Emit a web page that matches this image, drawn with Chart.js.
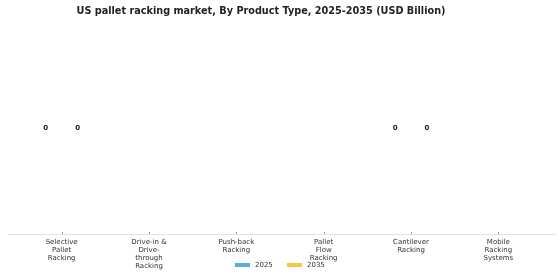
<!DOCTYPE html>
<html>
<head>
<meta charset="utf-8">
<script src="https://cdn.jsdelivr.net/npm/chart.js@4.4.1/dist/chart.umd.min.js"></script>
<style>
  html, body { margin: 0; padding: 0; background: #fff; }
  #wrap { width: 560px; height: 280px; position: relative; }
</style>
</head>
<body>
<div id="wrap"><canvas id="chart"></canvas></div>
<script>
// Categories and values (USD Billion)
const categories = [
  ['Selective', 'Pallet', 'Racking'],
  ['Drive-in &', 'Drive-', 'through', 'Racking'],
  ['Push-back', 'Racking'],
  ['Pallet', 'Flow', 'Racking'],
  ['Cantilever', 'Racking'],
  ['Mobile', 'Racking', 'Systems']
];
const values2025 = [0, null, null, null, 0, null];
const values2035 = [0, null, null, null, 0, null];
const seriesNames = ['2025', '2035'];
const seriesColors = ['#5aaedc', '#f2c84b'];
const titleText = 'US pallet racking market, By Product Type, 2025-2035 (USD Billion)';

const FONT = 'DejaVu Sans, sans-serif';

// value labels on top of the bars
const valueLabels = {
  id: 'valueLabels',
  afterDatasetsDraw(chart) {
    const ctx = chart.ctx;
    ctx.save();
    ctx.font = 'bold 7px ' + FONT;
    ctx.fillStyle = '#222';
    ctx.textAlign = 'center';
    ctx.textBaseline = 'middle';
    chart.data.datasets.forEach((ds, i) => {
      chart.getDatasetMeta(i).data.forEach((bar, j) => {
        if (ds.data[j] === null) return;
        ctx.fillText(ds.data[j], bar.x, bar.y);
      });
    });
    ctx.restore();
  }
};

// title, bottom axis line, ticks and legend
const extras = {
  id: 'extras',
  afterDraw(chart) {
    const ctx = chart.ctx;
    const area = chart.chartArea;
    const x = chart.scales.x;
    ctx.save();
    ctx.font = 'bold 9.7px ' + FONT;
    ctx.fillStyle = '#222';
    ctx.textAlign = 'center';
    ctx.textBaseline = 'middle';
    ctx.fillText(titleText, 261, 11);

    ctx.strokeStyle = '#e2e2e2';
    ctx.lineWidth = 1;
    ctx.beginPath();
    ctx.moveTo(8, area.bottom + 0.5);
    ctx.lineTo(556, area.bottom + 0.5);
    ctx.stroke();
    ctx.strokeStyle = '#999';
    categories.forEach((c, i) => {
      const px = Math.round(x.getPixelForValue(i)) + 0.5;
      ctx.beginPath();
      ctx.moveTo(px, area.bottom - 2);
      ctx.lineTo(px, area.bottom);
      ctx.stroke();
    });

    // legend
    ctx.font = '7px ' + FONT;
    ctx.textBaseline = 'middle';
    ctx.textAlign = 'left';
    const lx = [235, 287];
    seriesNames.forEach((name, i) => {
      ctx.fillStyle = seriesColors[i];
      ctx.fillRect(lx[i], 263, 15, 4);
      ctx.fillStyle = '#333';
      ctx.fillText(name, lx[i] + 20, 265.5);
    });
    ctx.restore();
  }
};

new Chart(document.getElementById('chart'), {
  type: 'bar',
  data: {
    labels: categories,
    datasets: [
      { label: seriesNames[0], data: values2025, backgroundColor: seriesColors[0], borderWidth: 0 },
      { label: seriesNames[1], data: values2035, backgroundColor: seriesColors[1], borderWidth: 0 }
    ]
  },
  options: {
    responsive: true,
    maintainAspectRatio: false,
    animation: false,
    devicePixelRatio: 1,
    categoryPercentage: 0.73,
    barPercentage: 0.95,
    layout: { padding: { left: 18, right: 18, top: 22, bottom: 0 } },
    plugins: {
      legend: { display: false },
      tooltip: { enabled: false },
      title: { display: false }
    },
    scales: {
      x: {
        grid: { display: false, drawTicks: false },
        border: { display: false },
        ticks: {
          color: '#333',
          font: { family: FONT, size: 7, lineHeight: 1.15 },
          maxRotation: 0,
          autoSkip: false,
          padding: 4
        },
        afterFit(scale) { scale.height = 46; }
      },
      y: {
        display: false,
        min: -0.055,
        max: 0.055
      }
    }
  },
  plugins: [valueLabels, extras]
});
</script>
</body>
</html>
